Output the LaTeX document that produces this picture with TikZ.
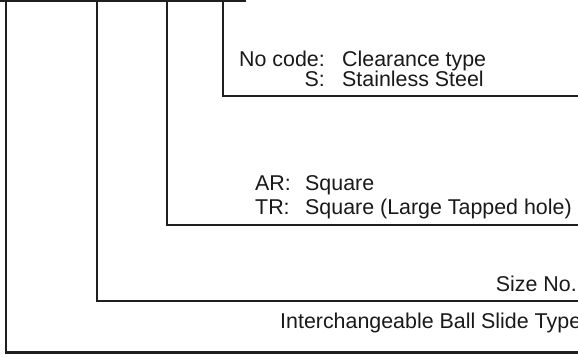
\documentclass[tikz,border=0pt]{standalone}
\usepackage{fontspec}
\setmainfont{Liberation Sans}
\usetikzlibrary{positioning}

\begin{document}
\begin{tikzpicture}[x=1pt, y=-1pt,
  leader/.style={line width=2.2pt, draw=black!88},
  txt/.style={inner sep=0pt, text=black!90, font=\fontsize{21.4}{24}\selectfont}]
\useasboundingbox (0,0) rectangle (578,356);

% top bar and the points where the leaders leave it
\coordinate (barL) at (0,1);
\coordinate (barR) at (246,1);
\coordinate (typeT) at (6,1);
\coordinate (sizeT) at (97,1);
\coordinate (shapeT) at (167,1);
\coordinate (matT) at (223,1);

% right ends of the leaders
\coordinate (typeE) at (578,352.5);
\coordinate (sizeE) at (578,301);
\coordinate (shapeE) at (578,225);
\coordinate (matE) at (578,96);

\draw [leader] (barL) -- (barR);
\draw [leader] (typeT) |- (typeE);
\draw [leader] (sizeT) |- (sizeE);
\draw [leader] (shapeT) |- (shapeE);
\draw [leader] (matT) |- (matE);

% material
\node (nocode) [txt, anchor=base east] at (325,66.5) {No code:};
\node (clear) [txt, anchor=base west] at (342,66.5) {Clearance type};
\node (scode) [txt, anchor=base east] at (325,86) {S:};
\node (steel) [txt, anchor=base west] at (342,86) {Stainless Steel};

% shape
\node (ar) [txt, anchor=base west] at (255,190.5) {AR:};
\node (sq) [txt, anchor=base west] at (305,190.5) {Square};
\node (tr) [txt, anchor=base west] at (255,214) {TR:};
\node (sqtap) [txt, anchor=base west] at (305,214) {Square (Large Tapped hole)};

% size and type
\node (size) [txt, anchor=base east] at (577,291.5) {Size No.};
\node (type) [txt, anchor=base west] at (280,328.5) {Interchangeable Ball Slide Type};
\end{tikzpicture}
\end{document}
